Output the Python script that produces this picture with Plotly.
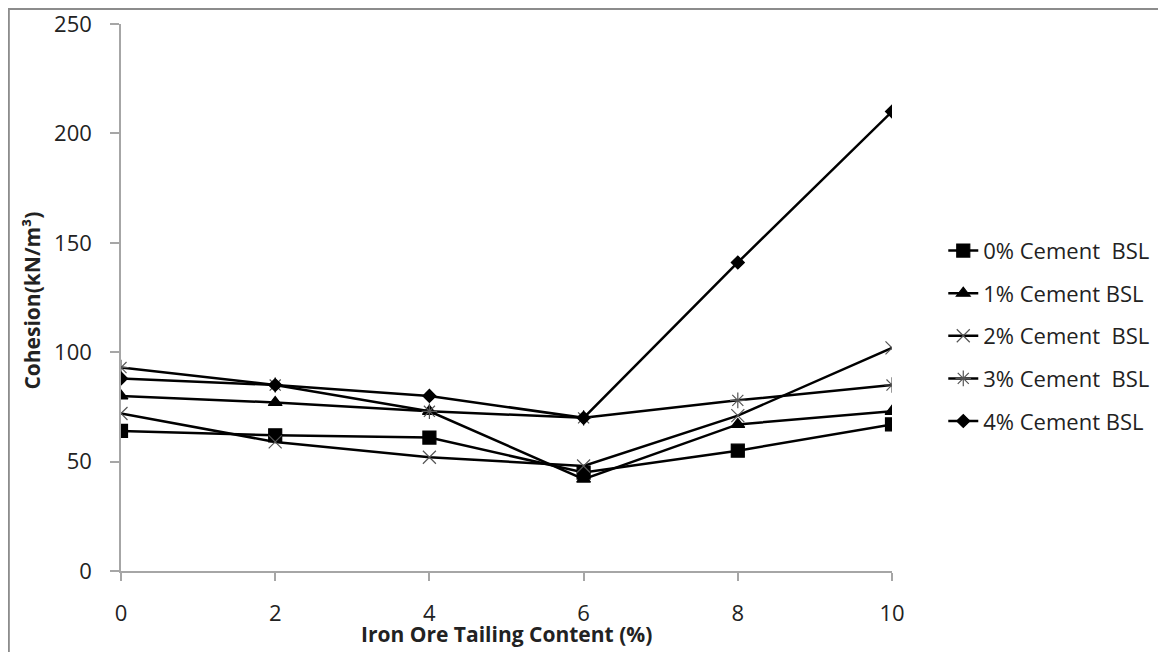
import plotly.graph_objects as go

x_content = [0, 2, 4, 6, 8, 10]
cement_0 = [64, 62, 61, 45, 55, 67]
cement_1 = [80, 77, 73, 42, 67, 73]
cement_2 = [72, 59, 52, 48, 71, 102]
cement_3 = [93, 85, 73, 70, 78, 85]
cement_4 = [88, 85, 80, 70, 141, 210]

names = ["0% Cement\u00a0\u00a0BSL", "1% Cement BSL", "2% Cement\u00a0\u00a0BSL",
         "3% Cement\u00a0\u00a0BSL", "4% Cement BSL"]
series = [cement_0, cement_1, cement_2, cement_3, cement_4]
symbols = ["square", "triangle-up", "x-thin-open", "asterisk-open", "diamond"]
msizes = [13, 12, 13, 13, 10]
mcolors = ["black", "black", "#555555", "#555555", "black"]

FONT = "Open Sans"
fig = go.Figure()
for i, (nm, ys) in enumerate(zip(names, series)):
    fig.add_trace(go.Scatter(
        x=x_content, y=ys, name=nm, mode="lines+markers",
        legendgroup=str(i),
        line=dict(color="black", width=2.5),
        marker=dict(symbol=symbols[i], size=msizes[i], color=mcolors[i],
                    line=dict(color=mcolors[i], width=1.2)),
    ))

fig.update_layout(
    width=1158, height=644,
    margin=dict(l=113, r=274, t=16, b=81, autoexpand=False),
    paper_bgcolor="white", plot_bgcolor="white",
    font=dict(family=FONT, size=22, color="#222222"),
    showlegend=True,
    legend=dict(x=1.0665, y=0.43, xanchor="left", yanchor="middle",
                traceorder="grouped", tracegroupgap=11,
                font=dict(family=FONT, size=22, color="#222222"),
                bgcolor="rgba(0,0,0,0)"),
    xaxis=dict(range=[0, 10], tickvals=[0, 2, 4, 6, 8, 10], showgrid=False,
               zeroline=False, showline=True, linecolor="#A6A6A6", linewidth=1.5,
               ticks="outside", ticklen=8, tickcolor="#A6A6A6", tickwidth=1.5,
               ticklabelstandoff=14, ticklabeloverflow="allow", automargin=False,
               tickfont=dict(size=22, color="#222222")),
    yaxis=dict(range=[0, 250], tickvals=[0, 50, 100, 150, 200, 250], showgrid=False,
               zeroline=False, showline=True, linecolor="#A6A6A6", linewidth=1.5,
               ticks="outside", ticklen=9, tickcolor="#A6A6A6", tickwidth=1.5,
               ticklabelstandoff=14, ticklabeloverflow="allow", automargin=False,
               tickfont=dict(size=22, color="#222222")),
    annotations=[
        dict(text="<b>Iron Ore Tailing Content (%)</b>", xref="paper", yref="paper",
             x=0.5, y=-0.116, xanchor="center", yanchor="middle", showarrow=False,
             font=dict(family=FONT, size=21, color="#222222")),
        dict(text="<b>Cohesion(kN/m³)</b>", xref="paper", yref="paper",
             x=-0.115, y=0.495, xanchor="center", yanchor="middle", showarrow=False,
             textangle=-90, font=dict(family=FONT, size=21, color="#222222")),
    ],
    shapes=[dict(type="rect", xref="paper", yref="paper",
                 x0=-0.1455, x1=1.40, y0=-0.25, y1=1.0275,
                 line=dict(color="#8C8C8C", width=2), layer="below")],
)

fig.write_html("out.html")
